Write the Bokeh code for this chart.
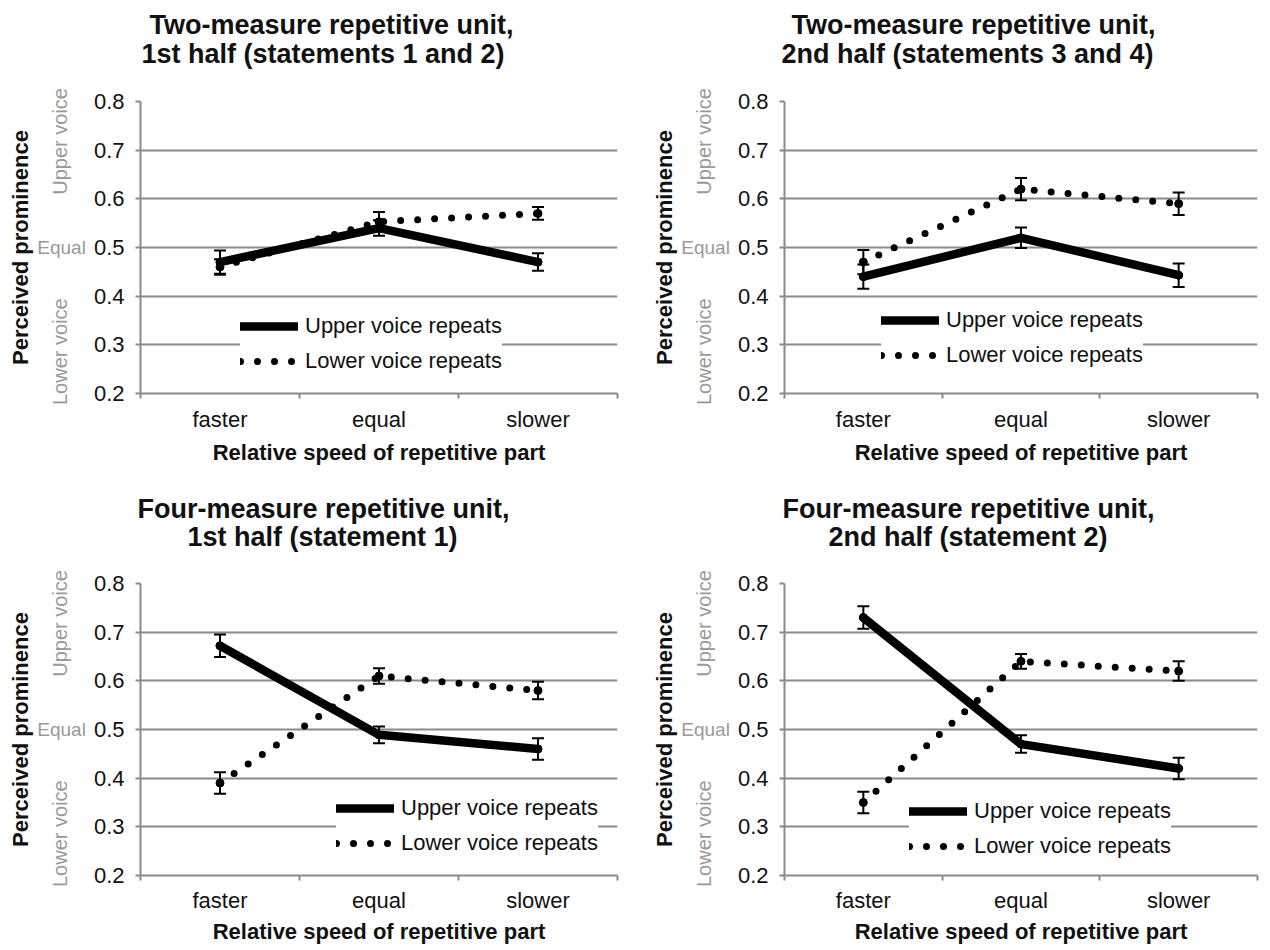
from bokeh.plotting import figure
from bokeh.models import (Range1d, FixedTicker, Legend, LegendItem, Whisker,
                          TeeHead, ColumnDataSource, LinearAxis, Title)
from bokeh.layouts import gridplot
from bokeh.embed import file_html
from bokeh.resources import INLINE

# ---------------- data ----------------
categories = ["faster", "equal", "slower"]
y_ticks = [0.2, 0.3, 0.4, 0.5, 0.6, 0.7, 0.8]
series_labels = ["Upper voice repeats", "Lower voice repeats"]

title_1 = ["Two-measure repetitive unit,", "1st half (statements 1 and 2)"]
title_2 = ["Two-measure repetitive unit,", "2nd half (statements 3 and 4)"]
title_3 = ["Four-measure repetitive unit,", "1st half (statement 1)"]
title_4 = ["Four-measure repetitive unit,", "2nd half (statement 2)"]

p1_upper = [0.47, 0.54, 0.47]
p1_upper_err = [0.024, 0.016, 0.018]
p1_lower = [0.46, 0.553, 0.57]
p1_lower_err = [0.016, 0.02, 0.013]

p2_upper = [0.44, 0.52, 0.443]
p2_upper_err = [0.025, 0.021, 0.024]
p2_lower = [0.47, 0.62, 0.59]
p2_lower_err = [0.025, 0.023, 0.023]

p3_upper = [0.672, 0.489, 0.46]
p3_upper_err = [0.023, 0.017, 0.022]
p3_lower = [0.39, 0.61, 0.58]
p3_lower_err = [0.022, 0.016, 0.018]

p4_upper = [0.73, 0.47, 0.42]
p4_upper_err = [0.023, 0.018, 0.022]
p4_lower = [0.35, 0.64, 0.62]
p4_lower_err = [0.022, 0.015, 0.02]

y_axis_label = "Perceived prominence"
x_axis_label = "Relative speed of repetitive part"
side_labels = ["Lower voice", "Upper voice"]
equal_label = "Equal"

# ---------------- style / layout ----------------
FONT = "Liberation Sans"
GRID = "#8a8a8a"
SIDE = "#9a9a9a"
INK = "#111111"
SIDE_POS = [0.286, 0.718]   # vertical placement of the side notes (axis units)


def make_panel(title, upper, upper_err, lower, lower_err, geom):
    p = figure(width=geom["w"], height=geom["h"], output_backend="svg",
               toolbar_location=None, tools="",
               x_range=Range1d(0, len(categories)), y_range=Range1d(0.2, 0.8),
               min_border_left=geom["l"], min_border_right=geom["r"],
               min_border_top=geom["t"], min_border_bottom=geom["b"])
    p.title.visible = False
    p.outline_line_color = None
    p.background_fill_color = "white"
    p.border_fill_color = "white"

    xs = [i + 0.5 for i in range(len(categories))]

    # ---- x axis: labels at category centres, ticks at boundaries
    xa = p.xaxis[0]
    xa.ticker = FixedTicker(ticks=xs, minor_ticks=list(range(len(categories) + 1)))
    xa.major_label_overrides = {x: c for x, c in zip(xs, categories)}
    xa.major_tick_line_color = None
    xa.major_tick_out = 0
    xa.major_tick_in = 0
    xa.minor_tick_out = 5
    xa.minor_tick_in = 0
    xa.minor_tick_line_color = GRID
    xa.minor_tick_line_width = 2
    xa.axis_line_color = GRID
    xa.axis_line_width = 2
    xa.major_label_text_font = FONT
    xa.major_label_text_font_size = "22px"
    xa.major_label_text_color = INK
    xa.major_label_standoff = geom["xts"]
    xa.axis_label = x_axis_label
    xa.axis_label_text_font = FONT
    xa.axis_label_text_font_size = "22px"
    xa.axis_label_text_font_style = "bold"
    xa.axis_label_text_color = INK
    xa.axis_label_standoff = geom["xls"]

    # ---- main y axis (numbers) with grey "Equal" note as its label
    ya = p.yaxis[0]
    ya.ticker = FixedTicker(ticks=y_ticks)
    ya.minor_tick_line_color = None
    ya.major_tick_out = 5
    ya.major_tick_in = 0
    ya.major_tick_line_color = GRID
    ya.major_tick_line_width = 2
    ya.axis_line_color = GRID
    ya.axis_line_width = 2
    ya.major_label_text_font = FONT
    ya.major_label_text_font_size = "22px"
    ya.major_label_text_color = INK
    ya.major_label_standoff = 11
    ya.axis_label = equal_label
    ya.axis_label_orientation = "horizontal"
    ya.axis_label_text_font = FONT
    ya.axis_label_text_font_size = "19px"
    ya.axis_label_text_font_style = "normal"
    ya.axis_label_text_color = SIDE
    ya.axis_label_standoff = 5

    # ---- outer y axis: grey side notes + bold axis title
    side = LinearAxis(ticker=FixedTicker(ticks=SIDE_POS),
                      major_label_overrides={v: t for v, t in zip(SIDE_POS, side_labels)},
                      major_label_orientation="vertical",
                      axis_line_color=None, major_tick_line_color=None,
                      minor_tick_line_color=None, major_tick_out=0, major_tick_in=0,
                      minor_tick_out=0, minor_tick_in=0,
                      major_label_text_font=FONT, major_label_text_font_size="20px",
                      major_label_text_color=SIDE, major_label_standoff=-37,
                      axis_label=y_axis_label, axis_label_text_font=FONT,
                      axis_label_text_font_size="22px", axis_label_text_font_style="bold",
                      axis_label_text_color=INK, axis_label_standoff=14)
    p.add_layout(side, "left")

    # ---- two-line title (second line is nearest to the plot)
    p.add_layout(Title(text=title[1], align="left", offset=geom["off"][1],
                       text_font=FONT, text_font_size="27px", text_font_style="bold",
                       text_color=INK, standoff=geom["ts"][1]), "above")
    p.add_layout(Title(text=title[0], align="left", offset=geom["off"][0],
                       text_font=FONT, text_font_size="27px", text_font_style="bold",
                       text_color=INK, standoff=geom["ts"][0]), "above")

    p.xgrid.visible = False
    p.ygrid.ticker = FixedTicker(ticks=y_ticks)
    p.ygrid.grid_line_color = GRID
    p.ygrid.grid_line_width = 2

    src = ColumnDataSource(dict(
        x=xs, up=upper, lo=lower,
        up_hi=[v + e for v, e in zip(upper, upper_err)],
        up_lo=[v - e for v, e in zip(upper, upper_err)],
        lo_hi=[v + e for v, e in zip(lower, lower_err)],
        lo_lo=[v - e for v, e in zip(lower, lower_err)],
    ))

    r_lo = p.line("x", "lo", source=src, line_color="black", line_width=7,
                  line_dash="0 17", line_cap="round", line_join="round")
    r_up = p.line("x", "up", source=src, line_color="black", line_width=8.5,
                  line_cap="round", line_join="round")
    p.scatter("x", "lo", source=src, size=8, color="black")
    p.scatter("x", "up", source=src, size=8, color="black")

    for hi, lo in (("up_hi", "up_lo"), ("lo_hi", "lo_lo")):
        p.add_layout(Whisker(source=src, base="x", upper=hi, lower=lo,
                             line_color="black", line_width=2, level="overlay",
                             upper_head=TeeHead(size=12, line_width=2, line_color="black"),
                             lower_head=TeeHead(size=12, line_width=2, line_color="black")))

    legend = Legend(items=[LegendItem(label=series_labels[0], renderers=[r_up]),
                           LegendItem(label=series_labels[1], renderers=[r_lo])],
                    location=geom["leg"], glyph_width=58, glyph_height=26,
                    label_height=26, label_standoff=7, spacing=9, padding=10,
                    border_line_color=None, background_fill_color="white",
                    background_fill_alpha=1.0, label_text_font=FONT,
                    label_text_font_size="22px", label_text_color=INK)
    p.add_layout(legend)
    return p


g1 = dict(w=640, h=470, l=140, r=23, t=101, b=77, xts=8, xls=5,
          off=(9, 1), ts=(-72, 66), leg=(100, 19))
g2 = dict(w=628, h=470, l=144, r=11, t=101, b=77, xts=8, xls=5,
          off=(7, -3), ts=(-72, 66), leg=(97, 25))
g3 = dict(w=640, h=478, l=140, r=23, t=113, b=73, xts=7, xls=3,
          off=(-3, 47), ts=(-72, 64), leg=(196, 19))
g4 = dict(w=628, h=478, l=144, r=11, t=113, b=73, xts=7, xls=3,
          off=(-2, 44), ts=(-72, 64), leg=(125, 16))

p1 = make_panel(title_1, p1_upper, p1_upper_err, p1_lower, p1_lower_err, g1)
p2 = make_panel(title_2, p2_upper, p2_upper_err, p2_lower, p2_lower_err, g2)
p3 = make_panel(title_3, p3_upper, p3_upper_err, p3_lower, p3_lower_err, g3)
p4 = make_panel(title_4, p4_upper, p4_upper_err, p4_lower, p4_lower_err, g4)

grid = gridplot([[p1, p2], [p3, p4]], toolbar_location=None)

open("out.html", "w").write(file_html(grid, INLINE))
